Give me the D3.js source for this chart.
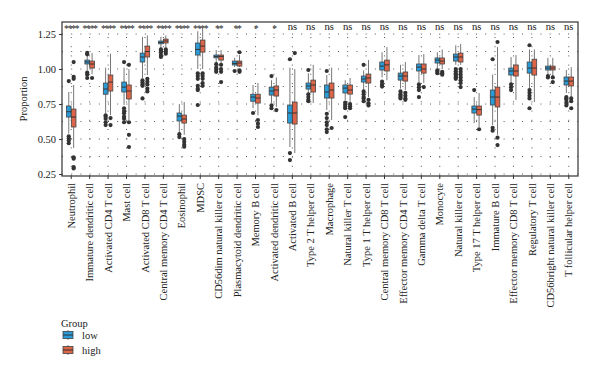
<!DOCTYPE html>
<html>
<head>
<meta charset="utf-8">
<script src="https://cdn.jsdelivr.net/npm/d3@7"></script>
<style>
  body { margin: 0; background: #fff; }
  svg text { font-family: "Liberation Serif", "DejaVu Serif", serif; fill: #222; }
</style>
</head>
<body>
<div id="chart"></div>
<script>
// cell types, in plotting order
var categories = ["Neutrophil", "Immature dendritic cell", "Activated CD4 T cell", "Mast cell",
    "Activated CD8 T cell", "Central memory CD4 T cell", "Eosinophil", "MDSC",
    "CD56dim natural killer cell", "Plasmacytoid dendritic cell", "Memory B cell",
    "Activated dendritic cell", "Activated B cell", "Type 2 T helper cell", "Macrophage",
    "Natural killer T cell", "Type 1 T helper cell", "Central memory CD8 T cell",
    "Effector memory CD4 T cell", "Gamma delta T cell", "Monocyte", "Natural killer cell",
    "Type 17 T helper cell", "Immature B cell", "Effector memory CD8 T cell",
    "Regulatory T cell", "CD56bright natural killer cell", "T follicular helper cell"];

var groups = ["low", "high"];

// [lower whisker, q1, median, q3, upper whisker]
var lowStats = [
    [0.54, 0.657, 0.695, 0.736, 0.836], [0.99, 1.036, 1.05, 1.064, 1.10],
    [0.686, 0.82, 0.857, 0.90, 1.01], [0.743, 0.836, 0.871, 0.907, 1.01],
    [0.936, 1.05, 1.086, 1.114, 1.23], [1.15, 1.18, 1.19, 1.20, 1.23],
    [0.55, 0.629, 0.664, 0.686, 0.75], [1.0, 1.10, 1.14, 1.186, 1.27],
    [1.045, 1.08, 1.09, 1.10, 1.136], [1.014, 1.029, 1.04, 1.057, 1.08],
    [0.72, 0.77, 0.80, 0.82, 0.886], [0.757, 0.814, 0.843, 0.871, 0.92],
    [0.443, 0.614, 0.686, 0.743, 1.01], [0.80, 0.857, 0.879, 0.90, 0.97],
    [0.707, 0.793, 0.836, 0.886, 0.957], [0.779, 0.829, 0.864, 0.886, 0.92],
    [0.85, 0.907, 0.929, 0.95, 0.99], [0.94, 0.993, 1.021, 1.05, 1.12],
    [0.86, 0.921, 0.95, 0.971, 1.03], [0.907, 0.986, 1.014, 1.036, 1.10],
    [1.0, 1.043, 1.064, 1.079, 1.12], [1.03, 1.057, 1.086, 1.107, 1.17],
    [0.614, 0.686, 0.714, 0.736, 0.80], [0.60, 0.743, 0.80, 0.85, 0.96],
    [0.90, 0.957, 0.986, 1.007, 1.086], [0.864, 0.971, 1.007, 1.05, 1.14],
    [0.957, 0.993, 1.007, 1.021, 1.08], [0.829, 0.886, 0.914, 0.943, 0.993]
];
var highStats = [
    [0.436, 0.586, 0.657, 0.714, 0.886], [0.964, 1.007, 1.036, 1.057, 1.115],
    [0.67, 0.843, 0.907, 0.957, 1.11], [0.636, 0.786, 0.843, 0.886, 1.0],
    [0.957, 1.086, 1.125, 1.164, 1.24], [1.155, 1.186, 1.20, 1.214, 1.24],
    [0.53, 0.614, 0.643, 0.671, 0.764], [1.0, 1.121, 1.164, 1.207, 1.29],
    [1.04, 1.064, 1.09, 1.10, 1.136], [1.014, 1.021, 1.043, 1.057, 1.10],
    [0.67, 0.757, 0.793, 0.82, 0.90], [0.73, 0.807, 0.85, 0.879, 0.94],
    [0.40, 0.607, 0.686, 0.764, 1.0], [0.757, 0.836, 0.886, 0.921, 1.03],
    [0.636, 0.793, 0.85, 0.90, 1.01], [0.757, 0.821, 0.85, 0.886, 0.936],
    [0.80, 0.90, 0.936, 0.964, 1.064], [0.92, 0.986, 1.03, 1.064, 1.157],
    [0.85, 0.914, 0.95, 0.979, 1.05], [0.90, 0.971, 1.0, 1.036, 1.107],
    [1.0, 1.036, 1.057, 1.079, 1.14], [1.03, 1.05, 1.086, 1.114, 1.18],
    [0.586, 0.671, 0.71, 0.736, 0.829], [0.53, 0.729, 0.80, 0.871, 1.157],
    [0.779, 0.95, 0.986, 1.029, 1.10], [0.764, 0.957, 1.007, 1.07, 1.14],
    [0.95, 0.993, 1.007, 1.021, 1.08], [0.80, 0.879, 0.914, 0.943, 1.014]
];

var lowOutliers = [
    [0.914, 0.52, 0.505, 0.49, 0.47], [1.115, 1.105, 0.975, 0.96, 0.936],
    [0.67, 0.66, 0.645, 0.62, 0.60], [1.05, 0.72, 0.70, 0.685, 0.66, 0.645, 0.62],
    [0.92, 0.905, 0.89, 0.88, 0.79], [1.14, 1.13, 1.12, 1.10, 1.086],
    [0.535, 0.514], [0.97, 0.95, 0.93, 0.88, 0.86, 0.85, 0.743],
    [1.035, 1.01, 0.995, 0.98], [0.986], [0.686], [0.95, 0.74, 0.72],
    [1.07, 0.40, 0.35], [0.993, 0.82, 0.80, 0.78, 0.77],
    [0.986, 0.68, 0.65, 0.62, 0.60, 0.57, 0.55], [0.76, 0.745, 0.73, 0.72, 0.657],
    [1.03, 0.84, 0.82, 0.80, 0.79, 0.77], [0.91, 0.89, 0.875],
    [0.84, 0.82, 0.81, 0.80, 0.79], [0.89, 0.87, 0.85, 0.80],
    [0.99, 0.98, 0.97], [1.0, 0.985, 0.97, 0.96, 0.95, 0.94, 0.93],
    [0.85], [1.07, 0.58, 0.56], [0.89, 0.87, 0.85],
    [1.17, 0.85, 0.83, 0.81, 0.79, 0.72], [0.95, 0.94], [0.80, 0.79, 0.78, 0.76, 0.74]
];
var highOutliers = [
    [1.05, 0.945, 0.93, 0.37, 0.36, 0.30, 0.29], [0.936], [0.65, 0.60],
    [1.03, 0.62, 0.53, 0.443], [0.93, 0.91, 0.89, 0.86, 0.84], [1.14, 1.125, 1.11],
    [0.50, 0.48, 0.46, 0.445], [0.97, 0.95, 0.93, 0.90, 0.88],
    [1.03, 1.0, 0.98, 0.907], [1.12, 0.99, 0.98], [0.636, 0.61, 0.586], [0.707],
    [1.114], [], [0.579], [0.75, 0.735, 0.72], [0.78, 0.755, 0.74], [],
    [0.83, 0.81, 0.79, 0.78], [0.871], [0.98, 0.97, 0.96],
    [1.0, 0.98, 0.96, 0.94, 0.92, 0.90, 0.871], [0.57], [1.193, 0.51, 0.457],
    [], [], [0.94, 0.907], [0.79, 0.77, 0.72]
];

var signif = ["****", "****", "****", "****", "****", "****", "****", "****",
    "**", "**", "*", "*", "ns", "ns", "ns", "ns", "ns", "ns", "ns", "ns",
    "ns", "ns", "ns", "ns", "ns", "ns", "ns", "ns"];

var yTicks = [0.25, 0.50, 0.75, 1.00, 1.25];

var colors = {low: "#2a9bd7", high: "#dc6549"};

var W = 600, H = 377;
var margin = {top: 22, left: 62, right: 22, bottom: 201};

var svg = d3.select("#chart").append("svg")
    .attr("width", W)
    .attr("height", H);

var x = d3.scaleBand()
    .domain(categories)
    .range([margin.left, W - margin.right])
    .padding(0);

var y = d3.scaleLinear()
    .domain([0.236, 1.336])
    .range([H - margin.bottom, margin.top]);

var dodge = d3.scaleBand()
    .domain(groups)
    .range([-5, 5])
    .padding(0.05);

// dotted grid
var gridY = d3.range(0.25, 1.26, 0.125);
svg.append("g").selectAll("line")
    .data(gridY)
    .enter().append("line")
    .attr("x1", margin.left).attr("x2", W - margin.right)
    .attr("y1", function(d) { return y(d); })
    .attr("y2", function(d) { return y(d); })
    .attr("stroke", "#555")
    .attr("stroke-width", 1)
    .attr("stroke-dasharray", "1,8.2");

svg.append("g").selectAll("line")
    .data(categories)
    .enter().append("line")
    .attr("x1", function(d) { return x(d) + x.bandwidth() / 2; })
    .attr("x2", function(d) { return x(d) + x.bandwidth() / 2; })
    .attr("y1", y.range()[0]).attr("y2", y.range()[1])
    .attr("stroke", "#555")
    .attr("stroke-width", 1)
    .attr("stroke-dasharray", "1,8.2");

// boxes
var boxData = [];
categories.forEach(function(c, i) {
    boxData.push({cat: c, group: "low", s: lowStats[i], out: lowOutliers[i]});
    boxData.push({cat: c, group: "high", s: highStats[i], out: highOutliers[i]});
});

var bw = dodge.bandwidth();
var boxes = svg.append("g").selectAll("g")
    .data(boxData)
    .enter().append("g")
    .attr("transform", function(d) {
        return "translate(" + (x(d.cat) + x.bandwidth() / 2 + dodge(d.group)) + ",0)";
    });

boxes.append("line")
    .attr("x1", bw / 2).attr("x2", bw / 2)
    .attr("y1", function(d) { return y(d.s[0]); })
    .attr("y2", function(d) { return y(d.s[4]); })
    .attr("stroke", "#777")
    .attr("stroke-width", 1);

boxes.append("rect")
    .attr("x", 0)
    .attr("width", bw)
    .attr("y", function(d) { return y(d.s[3]); })
    .attr("height", function(d) { return y(d.s[1]) - y(d.s[3]); })
    .attr("fill", function(d) { return colors[d.group]; })
    .attr("stroke", "#444")
    .attr("stroke-width", 0.8);

boxes.append("line")
    .attr("x1", 0).attr("x2", bw)
    .attr("y1", function(d) { return y(d.s[2]); })
    .attr("y2", function(d) { return y(d.s[2]); })
    .attr("stroke", "#333")
    .attr("stroke-width", 1);

boxes.selectAll("circle")
    .data(function(d) { return d.out; })
    .enter().append("circle")
    .attr("cx", bw / 2)
    .attr("cy", function(d) { return y(d); })
    .attr("r", 2.1)
    .attr("fill", "#333");

// panel border
svg.append("rect")
    .attr("x", margin.left).attr("y", margin.top)
    .attr("width", W - margin.left - margin.right)
    .attr("height", H - margin.top - margin.bottom)
    .attr("fill", "none")
    .attr("stroke", "#333")
    .attr("stroke-width", 1.2);

// axes
var yAxis = svg.append("g")
    .attr("transform", "translate(" + margin.left + ",0)")
    .call(d3.axisLeft(y).tickValues(yTicks).tickFormat(d3.format(".2f")).tickSize(3));
yAxis.select(".domain").remove();
yAxis.selectAll("text").style("font-size", "10.5px").attr("fill", "#222");
yAxis.selectAll("line").attr("stroke", "#333");

var xAxis = svg.append("g")
    .attr("transform", "translate(0," + (H - margin.bottom) + ")")
    .call(d3.axisBottom(x).tickSize(3));
xAxis.select(".domain").remove();
xAxis.selectAll("line").attr("stroke", "#333");
xAxis.selectAll("text")
    .style("font-size", "10.5px")
    .attr("fill", "#222")
    .attr("transform", "rotate(-90)")
    .attr("text-anchor", "end")
    .attr("x", -7)
    .attr("y", 0)
    .attr("dy", "0.35em");

svg.append("text")
    .attr("transform", "translate(27," + ((margin.top + H - margin.bottom) / 2) + ") rotate(-90)")
    .attr("text-anchor", "middle")
    .style("font-size", "10.5px")
    .text("Proportion");

// significance labels
svg.append("g").selectAll("text")
    .data(categories)
    .enter().append("text")
    .attr("x", function(d) { return x(d) + x.bandwidth() / 2; })
    .attr("y", function(d, i) { return signif[i] === "ns" ? 30 : 32; })
    .attr("text-anchor", "middle")
    .style("font-size", function(d, i) { return signif[i] === "ns" ? "10.5px" : "9.5px"; })
    .attr("letter-spacing", function(d, i) { return signif[i] === "ns" ? 0 : -1.2; })
    .text(function(d, i) { return signif[i]; });

// legend
var legend = svg.append("g").attr("transform", "translate(61,0)");
legend.append("text")
    .attr("x", 0).attr("y", 327)
    .style("font-size", "10.5px")
    .text("Group");

var keys = legend.selectAll("g.key")
    .data(groups)
    .enter().append("g")
    .attr("class", "key")
    .attr("transform", function(d, i) { return "translate(0," + (335 + i * 15) + ")"; });
keys.append("line")
    .attr("x1", 7).attr("x2", 7).attr("y1", -5).attr("y2", 5)
    .attr("stroke", "#777");
keys.append("rect")
    .attr("x", 2).attr("y", -3.5).attr("width", 10).attr("height", 7)
    .attr("fill", function(d) { return colors[d]; })
    .attr("stroke", "#444").attr("stroke-width", 0.8);
keys.append("line")
    .attr("x1", 2).attr("x2", 12).attr("y1", 0).attr("y2", 0)
    .attr("stroke", "#333");
keys.append("text")
    .attr("x", 21).attr("y", 3.5)
    .style("font-size", "10.5px")
    .text(function(d) { return d; });
</script>
</body>
</html>
